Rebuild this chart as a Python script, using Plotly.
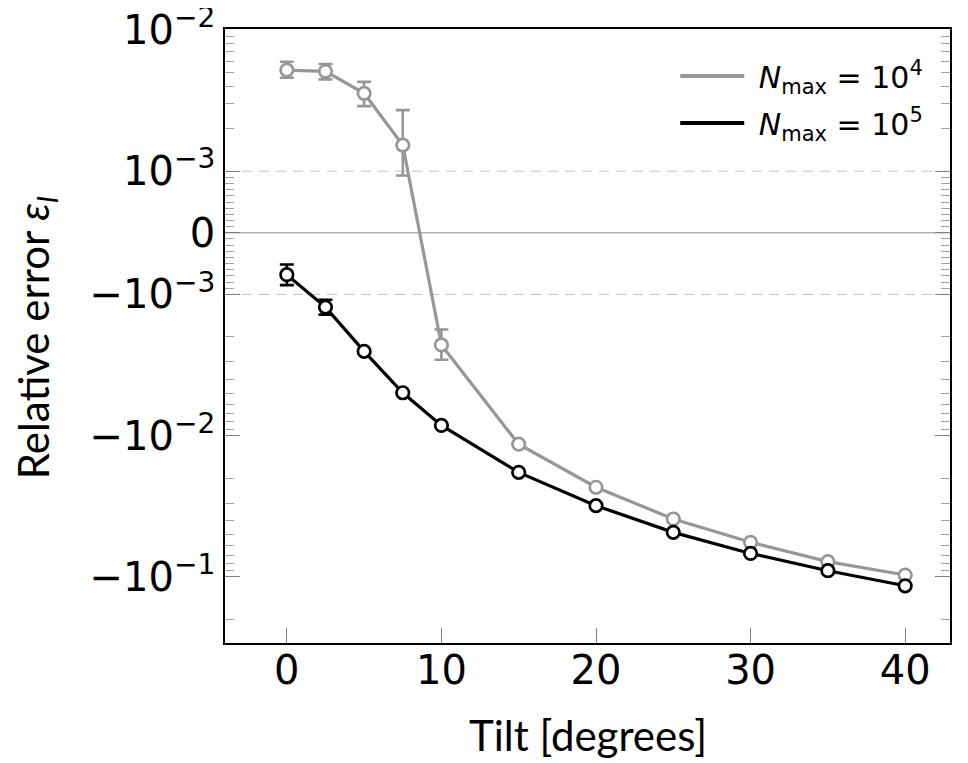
import numpy as np
import plotly.graph_objects as go

# ---- data ----
tilt = [0, 2.5, 5, 7.5, 10, 15, 20, 25, 30, 35, 40]

err_n4 = [5.2e-3, 5.1e-3, 3.56e-3, 1.53e-3, -2.28e-3, -1.15e-2, -2.32e-2, -3.89e-2, -5.69e-2, -7.8e-2, -9.7e-2]
err_n4_hi = [5.96e-3, 5.74e-3, 4.29e-3, 2.71e-3, -1.77e-3, -1.12e-2, -2.30e-2, -3.87e-2, -5.67e-2, -7.78e-2, -9.68e-2]
err_n4_lo = [4.59e-3, 4.47e-3, 2.89e-3, 0.93e-3, -2.90e-3, -1.18e-2, -2.34e-2, -3.91e-2, -5.71e-2, -7.82e-2, -9.72e-2]

err_n5 = [-0.68e-3, -1.23e-3, -2.53e-3, -4.97e-3, -8.47e-3, -1.82e-2, -3.13e-2, -4.84e-2, -6.82e-2, -9.04e-2, -0.1156]
err_n5_hi = [-0.515e-3, -1.09e-3, -2.45e-3, -4.93e-3, -8.43e-3, -1.82e-2, -3.13e-2, -4.84e-2, -6.82e-2, -9.04e-2, -0.1156]
err_n5_lo = [-0.85e-3, -1.39e-3, -2.62e-3, -5.02e-3, -8.52e-3, -1.82e-2, -3.13e-2, -4.84e-2, -6.82e-2, -9.04e-2, -0.1156]

legend_names = ["&nbsp;<i>N</i><sub>max</sub> = 10<sup>4</sup>",
                "&nbsp;<i>N</i><sub>max</sub> = 10<sup>5</sup>"]

y_major = [1e-2, 1e-3, 0, -1e-3, -1e-2, -1e-1]
y_major_text = ["10<sup>−2</sup>", "10<sup>−3</sup>", "0", "−10<sup>−3</sup>", "−10<sup>−2</sup>", "−10<sup>−1</sup>"]
x_major = [0, 10, 20, 30, 40]
x_title = "Tilt [degrees]"
y_title = "Relative error <i>ε<sub>l</sub></i>"

# ---- symmetric-log transform (linear threshold 1e-3) ----
LINTHRESH = 1e-3
LINW = 0.436  # width of linear part in decades


def symlog(v):
    v = np.asarray(v, dtype=float)
    a = np.abs(v)
    out = np.where(a >= LINTHRESH,
                   np.sign(v) * (LINW + np.log10(np.maximum(a, 1e-300) / LINTHRESH)),
                   v / LINTHRESH * LINW)
    return out


y_minor = [k * 1e-4 for k in range(1, 10)] + [-k * 1e-4 for k in range(1, 10)]
y_minor += [k * 1e-3 for k in range(2, 10)]
y_minor += [-k * 1e-3 for k in range(2, 10)] + [-k * 1e-2 for k in range(2, 10)] + [-2e-1]

GRAY = "#979797"
BLACK = "#000000"

fig = go.Figure()


def add_series(y, hi, lo, color):
    t = symlog(y)
    th = symlog(hi)
    tl = symlog(lo)
    fig.add_trace(go.Scatter(
        x=tilt, y=t, mode="lines+markers", showlegend=False,
        line=dict(color=color, width=3.2),
        marker=dict(symbol="circle", size=12.5, color="white", line=dict(color=color, width=2.7)),
        error_y=dict(type="data", symmetric=False, array=list(th - t), arrayminus=list(t - tl),
                     color=color, thickness=2.6, width=7),
    ))


add_series(err_n4, err_n4_hi, err_n4_lo, GRAY)
add_series(err_n5, err_n5_hi, err_n5_lo, BLACK)

for i, (name, color) in enumerate(zip(legend_names, [GRAY, BLACK])):
    fig.add_trace(go.Scatter(x=[None], y=[None], mode="lines", name=name, legendgroup=f"g{i}",
                             line=dict(color=color, width=4)))

# reference lines
fig.add_hline(y=float(symlog(0)), line=dict(color="#8a8a8a", width=1), layer="below")
for v in (1e-3, -1e-3):
    fig.add_hline(y=float(symlog(v)), line=dict(color="#c4c4c4", width=1, dash="10px,7px"), layer="below")

TICKFONT = "DejaVu Sans"
TITLEFONT = "Lato"
fig.update_layout(
    width=968, height=763,
    margin=dict(l=217, r=26, t=21, b=128),
    plot_bgcolor="white", paper_bgcolor="white",
    font=dict(family=TICKFONT, size=40, color="black"),
    legend=dict(x=0.621, y=0.966, xanchor="left", yanchor="top",
                font=dict(size=30), itemwidth=64, bgcolor="rgba(255,255,255,0)",
                tracegroupgap=5),
    annotations=[
        dict(text=x_title, xref="paper", yref="paper", x=0.5, y=-0.150,
             xanchor="center", yanchor="middle", showarrow=False,
             font=dict(family=TITLEFONT, size=42, color="black")),
        dict(text=y_title, xref="paper", yref="paper", x=-0.2607, y=0.498,
             xanchor="center", yanchor="middle", showarrow=False, textangle=-90,
             font=dict(family=TITLEFONT, size=42, color="black")),
    ],
)
fig.update_xaxes(
    range=[-4, 42.9], tickvals=x_major, ticks="inside", ticklen=15, tickcolor="#808080",
    showline=True, linecolor="black", linewidth=1.5, mirror=True,
    showgrid=False, zeroline=False, tickfont=dict(size=40), automargin=False,
    ticklabelstandoff=-9,
)
fig.update_yaxes(
    range=[-2.904, 1.443], tickvals=list(symlog(y_major)), ticktext=y_major_text,
    ticks="inside", ticklen=15, tickcolor="#808080",
    minor=dict(tickvals=list(symlog(y_minor)), ticks="inside", ticklen=9, tickcolor="#a0a0a0", showgrid=False),
    showline=True, linecolor="black", linewidth=1.5, mirror="allticks",
    showgrid=False, zeroline=False, tickfont=dict(size=40), automargin=False,
    ticklabeloverflow="allow",
)

fig.write_html("out.html")
